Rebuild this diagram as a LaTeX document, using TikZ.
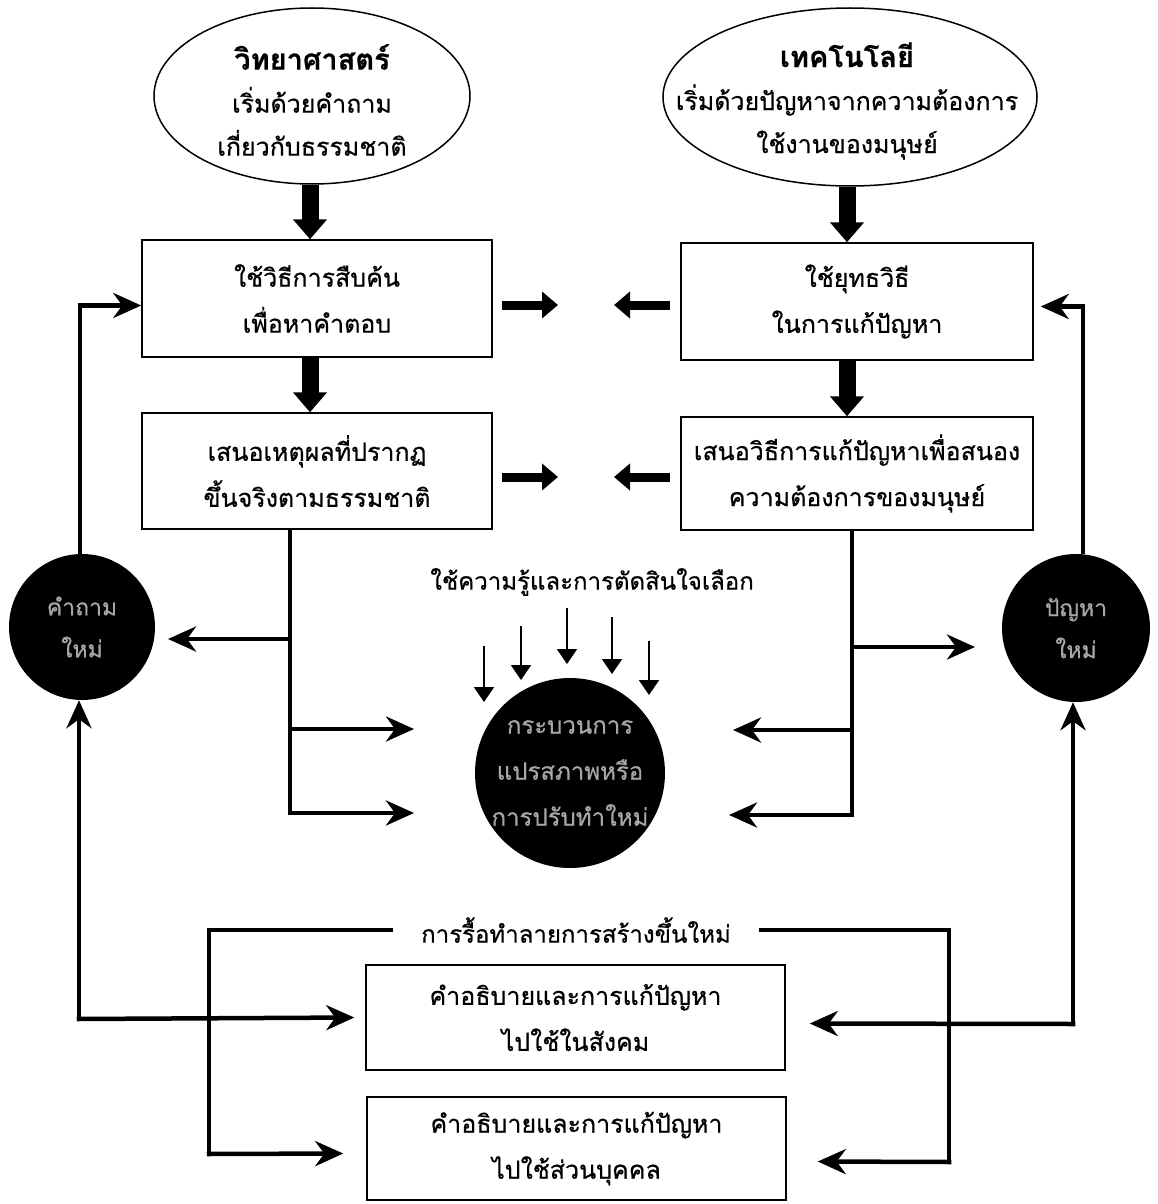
\documentclass[tikz,border=0pt]{standalone}
\usepackage{fontspec}
\newfontfamily\thaifont[Script=Thai, FakeBold=0.6]{Loma}
\usetikzlibrary{arrows.meta,shapes.geometric,calc}
\tikzset{
  txt/.style={font=\thaifont\fontsize{25}{43}\selectfont, align=center, inner sep=0pt},
  lbl/.style={font=\thaifont\fontsize{24}{43}\selectfont, align=center, inner sep=0pt},
  ellbox/.style={draw, line width=1.5pt, ellipse, inner sep=0pt},
  rbox/.style={draw, line width=1.5pt, rectangle, inner sep=0pt, align=center,
    font=\thaifont\fontsize{25}{46}\selectfont},
  blk/.style={circle, fill=black, inner sep=0pt, align=center, text=black!35!white,
    font=\thaifont\fontsize{23}{42}\selectfont},
  bigarrow/.style={line width=17pt, -{Triangle[length=20pt,width=33pt]}},
  midarrow/.style={line width=9pt, -{Triangle[length=16pt,width=26pt]}},
  conn/.style={line width=4.5pt, -{Stealth[length=28pt,width=25pt,inset=9pt]}},
  plain/.style={line width=4.5pt},
  thin/.style={line width=2pt, -{Triangle[length=15pt,width=20pt]}},
}
\begin{document}
\begin{tikzpicture}[x=1pt,y=-1pt]
\useasboundingbox (0,0) rectangle (1157,1204);
\fill[white] (0,0) rectangle (1157,1204);

% top ellipses
\node[ellbox, minimum width=316pt, minimum height=176pt] (sci) at (312,96) {};
\node[txt] (scitxt) at (312,100) {{\bfseries\fontsize{29}{43}\selectfont วิทยาศาสตร์}\\เริ่มด้วยคำถาม\\เกี่ยวกับธรรมชาติ};
\node[ellbox, minimum width=374pt, minimum height=178pt] (tech) at (850,97) {};
\node[txt] (techtxt) at (847,101) {{\bfseries\fontsize{29}{43}\selectfont เทคโนโลยี}\\เริ่มด้วยปัญหาจากความต้องการ\\ใช้งานของมนุษย์};

% boxes
\node[rbox, minimum width=350pt, minimum height=117pt] (b1) at (317,298.5) {ใช้วิธีการสืบค้น\\เพื่อหาคำตอบ};
\node[rbox, minimum width=350pt, minimum height=116pt] (b2) at (317,471) {เสนอเหตุผลที่ปรากฏ\\ขึ้นจริงตามธรรมชาติ};
\node[rbox, minimum width=352pt, minimum height=117pt] (b3) at (857,301.5) {ใช้ยุทธวิธี\\ในการแก้ปัญหา};
\node[rbox, minimum width=352pt, minimum height=113pt] (b4) at (857,473.5) {เสนอวิธีการแก้ปัญหาเพื่อสนอง\\ความต้องการของมนุษย์};

% black circles
\node[blk, minimum size=146pt] (cq) at (82,627) {คำถาม\\ใหม่};
\node[blk, minimum size=148pt] (cp) at (1076,628) {ปัญหา\\ใหม่};
\node[blk, minimum size=190pt, font=\thaifont\fontsize{24}{46}\selectfont] (cc) at (570,773) {กระบวนการ\\แปรสภาพหรือ\\การปรับทำใหม่};

% labels
\node[lbl] (know) at (592,582) {ใช้ความรู้และการตัดสินใจเลือก};
\node[lbl, inner xsep=28pt] (des) at (576,930) {การรื้อทำลายการสร้างขึ้นใหม่};

% bottom boxes
\node[rbox, minimum width=419pt, minimum height=105pt] (b5) at (575.5,1017.5) {คำอธิบายและการแก้ปัญหา\\ไปใช้ในสังคม};
\node[rbox, minimum width=419pt, minimum height=103pt] (b6) at (576.5,1148.5) {คำอธิบายและการแก้ปัญหา\\ไปใช้ส่วนบุคคล};

% thick vertical arrows
\draw[bigarrow] (sci.south -| 310,0) -- (b1.north -| 310,0);
\draw[bigarrow] (b1.south -| 310,0) -- (b2.north -| 310,0);
\draw[bigarrow] (tech.south -| 847,0) -- (b3.north -| 847,0);
\draw[bigarrow] (b3.south -| 847,0) -- (b4.north -| 847,0);

% short horizontal arrows between columns
\coordinate (h1a) at (502,305); \coordinate (h1b) at (558,305);
\coordinate (h2a) at (670,305); \coordinate (h2b) at (614,305);
\coordinate (h3a) at (502,477); \coordinate (h3b) at (558,477);
\coordinate (h4a) at (670,477); \coordinate (h4b) at (614,477);
\draw[midarrow] (h1a) -- (h1b);
\draw[midarrow] (h2a) -- (h2b);
\draw[midarrow] (h3a) -- (h3b);
\draw[midarrow] (h4a) -- (h4b);

% loops back to top boxes
\draw[conn] (cq.north -| 80,0) |- ([yshift=-7pt]b1.west);
\draw[conn] (cp.north -| 1083,0) |- ([yshift=-5pt,xshift=7pt]b3.east);

% left distribution
\coordinate (lt) at (290,529);
\coordinate (l1) at (290,639); \coordinate (l1t) at (168,639);
\coordinate (l2) at (290,729); \coordinate (l2t) at (414,729);
\coordinate (l3) at (290,813); \coordinate (l3t) at (414,813);
\draw[plain] (lt) -- (l3);
\draw[conn] (l1) -- (l1t);
\draw[conn] (l2) -- (l2t);
\draw[conn] ([xshift=-2.25pt]l3) -- (l3t);

% right distribution
\coordinate (rt) at (852,530);
\coordinate (r1) at (852,647); \coordinate (r1t) at (975,647);
\coordinate (r2) at (852,730); \coordinate (r2t) at (733,730);
\coordinate (r3) at (852,815); \coordinate (r3t) at (729,815);
\draw[plain] (rt) -- (r3);
\draw[conn] (r1) -- (r1t);
\draw[conn] (r2) -- (r2t);
\draw[conn] ([xshift=2.25pt]r3) -- (r3t);

% five thin arrows
\coordinate (t1) at (484,646); \coordinate (t1e) at (484,702);
\coordinate (t2) at (521,626); \coordinate (t2e) at (521,680);
\coordinate (t3) at (567,608); \coordinate (t3e) at (567,664);
\coordinate (t4) at (612,617); \coordinate (t4e) at (612,674);
\coordinate (t5) at (649,641); \coordinate (t5e) at (649,695);
\draw[thin] (t1) -- (t1e);
\draw[thin] (t2) -- (t2e);
\draw[thin] (t3) -- (t3e);
\draw[thin] (t4) -- (t4e);
\draw[thin] (t5) -- (t5e);

% bottom returns to circles and boxes
\coordinate (lq) at (79,1019);
\draw[conn] (lq) -- (cq.south -| lq);
\draw[conn] ([xshift=-2.25pt]lq) -- ([xshift=-11pt]b5.west);
\coordinate (rq) at (1073,1024);
\draw[conn] (rq) -- (cp.south -| rq);
\draw[conn] ([xshift=2.25pt]rq) -- ([xshift=24pt,yshift=-6pt]b5.east);

% destroy / rebuild branches
\coordinate (dl) at (209,930); \coordinate (dlb) at (209,1154);
\coordinate (dr) at (949,930); \coordinate (drb) at (949,1162);
\draw[plain] (des.west) -- (dl) -- (dlb);
\draw[conn] ([xshift=-2.25pt]dlb) -- ([xshift=-23pt,yshift=-5pt]b6.west);
\draw[plain] (des.east) -- (dr) -- (drb);
\draw[conn] ([xshift=2.25pt]drb) -- ([xshift=31pt,yshift=-13pt]b6.east);
\end{tikzpicture}
\end{document}
